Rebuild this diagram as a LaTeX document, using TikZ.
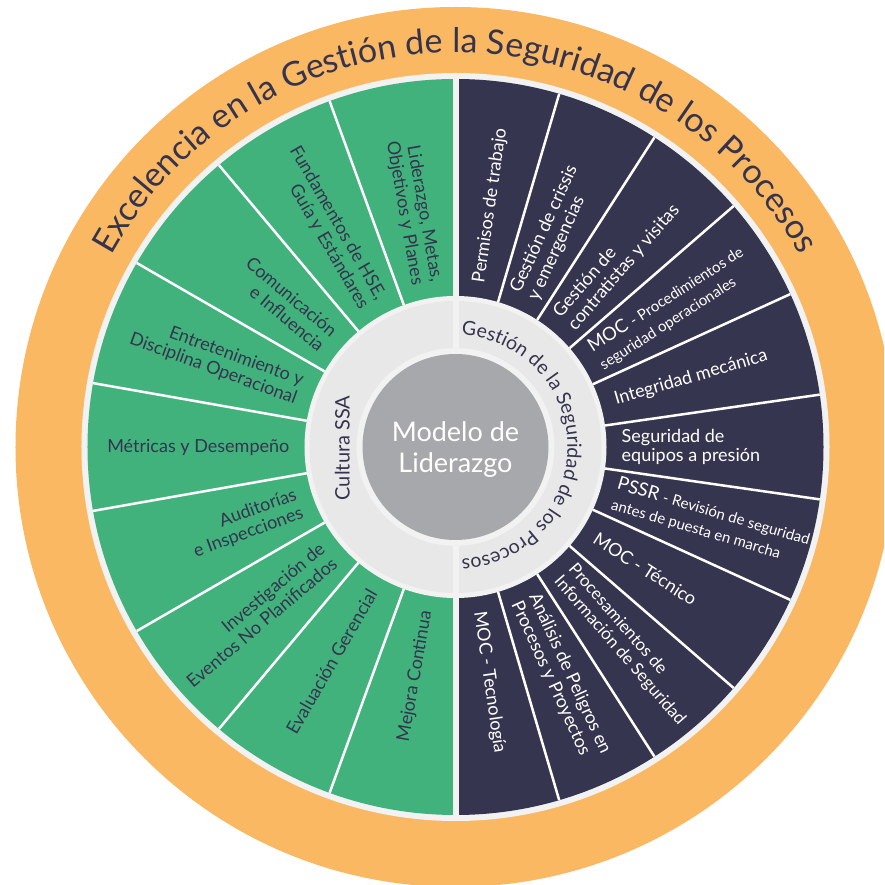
\documentclass[tikz,border=0pt]{standalone}
\usepackage{fontspec}
\setmainfont{Lato}
\usetikzlibrary{decorations.text}
\definecolor{orangeC}{HTML}{FBB863}
\definecolor{bandC}{HTML}{F2F2F2}
\definecolor{greenC}{HTML}{42B27D}
\definecolor{navyC}{HTML}{35354F}
\definecolor{ringC}{HTML}{E8E8E8}
\definecolor{centerC}{HTML}{A7A8AB}
\definecolor{textD}{HTML}{35344E}
\newcommand{\titlefnt}{\fontsize{34}{38}\selectfont}
\newcommand{\ringfnt}{\fontsize{19.5}{22}\selectfont}
\newcommand{\smallfnt}{\fontsize{15}{21}\selectfont}
\begin{document}
\begin{tikzpicture}[x=1pt,y=1pt,
  glabel/.style={font=\fontsize{18}{19.5}\selectfont, text=textD, inner sep=0pt, anchor=east, align=right},
  nlabel/.style={font=\fontsize{18}{19.5}\selectfont, text=white, inner sep=0pt, anchor=west, align=left},
  nsmall/.style={nlabel, font=\fontsize{18.5}{21}\selectfont},
  divider/.style={draw=white, line width=2.5pt},
  gapline/.style={draw=bandC, line width=6pt},
]
\clip (-455.5,-438) rectangle (428.5,447);
\fill[white] (-455.5,-438) rectangle (428.5,447);
% rings
\fill[orangeC] (0,0) circle[radius=440pt];
\fill[bandC] (0,0) circle[radius=374pt];
\fill[greenC] (90:368pt) arc[start angle=90,end angle=270,radius=368pt] -- cycle;
\fill[navyC] (90:368pt) arc[start angle=90,end angle=-90,radius=368pt] -- cycle;
\foreach \a in {110,130,...,250} \draw[divider] (\a:151pt) -- (\a:368pt);
\foreach \k in {1,...,10} \draw[divider] ({90-180/11*\k}:151pt) -- ({90-180/11*\k}:368pt);
\fill[bandC] (0,0) circle[radius=151pt];
\fill[ringC, even odd rule] (0,0) circle[radius=146pt] circle[radius=99pt];
\draw[gapline] (90:99pt) -- (90:372pt);
\draw[gapline] (-90:99pt) -- (-90:372pt);
\fill[centerC] (0,0) circle[radius=93pt];
% title
\path[decorate, decoration={text along path, text color=textD,
  text={|\titlefnt|Excelencia en la Gesti{ó}n de la Seguridad de los Procesos}, text align=center}]
  (160:394pt) arc[start angle=160, end angle=20, radius=394pt];
% inner ring
\path[decorate, decoration={text along path, text color=textD,
  text={|\ringfnt|Gesti{ó}n de la Seguridad de los Procesos}, text align=center}]
  (88:112pt) arc[start angle=88, end angle=-88, radius=112pt];
\node[font=\fontsize{20}{20}\selectfont, text=textD, rotate=90, anchor=base, inner sep=0pt] (cultura) at (-106,-1) {Cultura SSA};
\node[font=\fontsize{27}{31}\selectfont, text=white, align=center] (modelo) at (0,-3) {Modelo de\\Liderazgo};
% green labels
\node[glabel, rotate=-80] (g1) at (100:166pt) {Liderazgo, Metas,\\Objetivos y Planes};
\node[glabel, rotate=-60] (g2) at (120:166pt) {Fundamentos de HSE,\\Guía y Estándares};
\node[glabel, rotate=-40] (g3) at (140:166pt) {Comunicación\\e Influencia};
\node[glabel, rotate=-20] (g4) at (160:166pt) {Entretenimiento y\\Disciplina Operacional};
\node[glabel, rotate=0] (g5) at (180:166pt) {Métricas y Desempeño};
\node[glabel, rotate=20] (g6) at (200:166pt) {Auditorías\\e Inspecciones};
\node[glabel, rotate=40] (g7) at (220:166pt) {Investigación de\\Eventos No Planificados};
\node[glabel, rotate=60] (g8) at (240:166pt) {Evaluación Gerencial};
\node[glabel, rotate=80] (g9) at (260:166pt) {Mejora Continua};
% navy labels
\node[nlabel, rotate=81.82] (n1) at (81.82:166pt) {Permisos de trabajo};
\node[nlabel, rotate=65.45] (n2) at (65.45:166pt) {Gestión de crissis\\y emergencias};
\node[nlabel, rotate=49.09] (n3) at (49.09:166pt) {Gestión de\\contratistas y visitas};
\node[nsmall, rotate=32.73] (n4) at (32.73:166pt) {MOC {\smallfnt - Procedimientos de}\\{\smallfnt seguridad operacionales}};
\node[nlabel, rotate=16.36] (n5) at (16.36:166pt) {Integridad mecánica};
\node[nlabel, rotate=0] (n6) at (0:166pt) {Seguridad de\\equipos a presión};
\node[nsmall, rotate=-16.36] (n7) at (-16.36:166pt) {PSSR {\smallfnt - Revisión de seguridad}\\{\smallfnt antes de puesta en marcha}};
\node[nlabel, rotate=-32.73] (n8) at (-32.73:166pt) {MOC - Técnico};
\node[nlabel, rotate=-49.09, font=\fontsize{17}{19}\selectfont] (n9) at (-49.09:166pt) {Procesamientos de\\Información de Seguridad};
\node[nlabel, rotate=-65.45] (n10) at (-65.45:166pt) {Análisis de Peligros en\\Procesos y Proyectos};
\node[nlabel, rotate=-81.82] (n11) at (-81.82:166pt) {MOC - Tecnología};
\end{tikzpicture}
\end{document}
